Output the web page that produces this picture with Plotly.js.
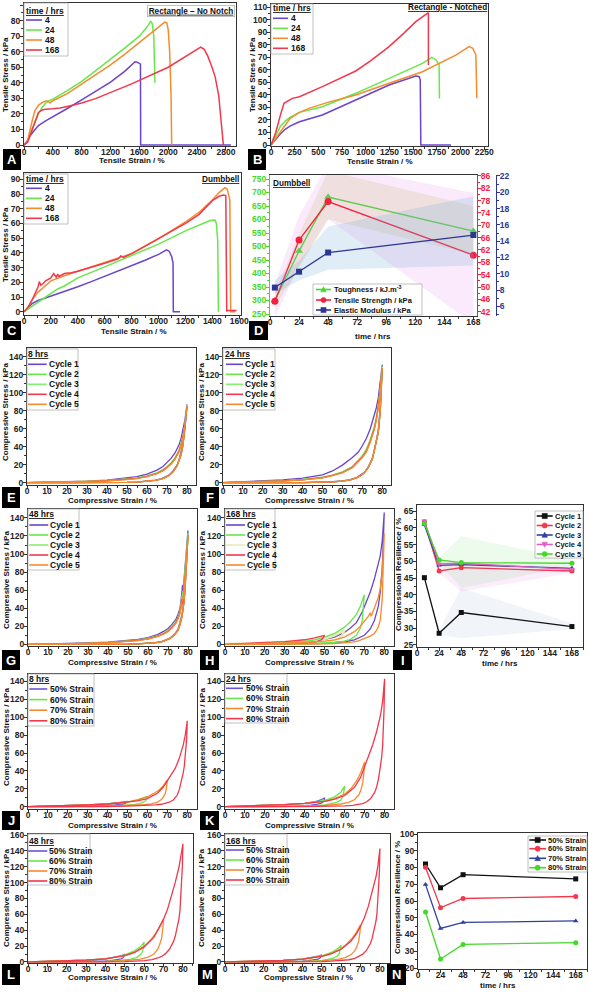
<!DOCTYPE html>
<html><head><meta charset="utf-8">
<script src="https://cdn.plot.ly/plotly-3.0.1.min.js"></script>
<style>html,body{margin:0;padding:0;background:#fff;}#chart{width:589px;height:992px;}</style>
</head><body><div id="chart"></div>
<script>
// ---------------- DATA ----------------
// Panel A: Rectangle - No Notch (strain %, stress kPa)
const A_4_x = [0,50,100,150,200,300,400,600,800,1000,1200,1400,1500,1540,1570,1600,1615,1618,2870];
const A_4_y = [0,3,7,10,12.5,15.5,18,23.5,29,34.5,40.5,47.5,51.5,53.5,53.3,52.5,52,0,0];
const A_24_x = [0,50,100,150,200,250,300,350,400,600,800,1000,1200,1400,1600,1700,1757,1780,1800,1810,1815];
const A_24_y = [0,2,9,15,20,24,27,28.5,29.5,35,41,48,55,62.5,70,75.5,79.5,78,70,55,40];
const A_48_x = [0,50,116,150,200,250,300,330,360,400,600,800,1000,1200,1400,1600,1800,1951,1980,2000,2020,2040,2048];
const A_48_y = [0,3,16,22,25.5,27.3,28.3,28.3,27,28.5,33,39,45,51.5,58.5,66,73.5,79,78.5,74,60,30,0];
const A_168_x = [0,50,100,150,200,250,300,400,500,600,800,1000,1500,2000,2450,2500,2550,2600,2650,2700,2730,2750,2760,2765];
const A_168_y = [0,2,8,15,21,22.5,23,23.3,23.8,24.8,27,30,39.5,50,63,61.5,57,51,44,32,18,8,5,0];
// Panel B: Rectangle - Notched
const B_4_x = [0,50,100,150,200,300,542,894,1246,1528,1563,1575,1581,1900];
const B_4_y = [0,4.5,9,12.5,15,18.5,23.9,35.9,47.8,55,54.6,52,0,0];
const B_24_x = [0,50,100,150,200,300,542,894,1246,1598,1697,1740,1774,1778];
const B_24_y = [0,8,15,19,22,26,30.5,41.2,53.2,65.1,69.9,68,64,37];
const B_48_x = [0,50,100,150,200,300,401,600,894,1246,1598,1950,2091,2130,2162,2172];
const B_48_y = [0,5,11,16,21,26,29.2,34,39.9,49.2,58.4,71.7,78.4,77,71.7,37.2];
const B_168_x = [0,50,100,137,225,300,542,700,894,1050,1246,1400,1528,1661,1661];
const B_168_y = [0,10,24,33.2,37.2,38.5,46.5,52,59,67,78.4,89,98.3,105.5,63.8];
// Panel C: Dumbbell
const C_4_x = [0,30,60,100,150,200,300,400,500,600,700,800,900,1000,1060,1080,1098,1108,1110,1160];
const C_4_y = [0,3,5.5,7.5,9,10.5,13.5,17,20.5,24,27.5,31,35,39,42,41,37.4,33,0,0];
const C_24_x = [0,50,100,150,200,250,300,400,600,800,1000,1200,1300,1383,1420,1430,1440,1445];
const C_24_y = [0,3,6,9,12,15.5,17.5,23,30.5,38,46,55,59,62,62.3,60,48,0];
const C_48_x = [0,30,60,100,150,200,300,400,600,800,1000,1200,1300,1400,1450,1494,1510,1530,1536,1570];
const C_48_y = [0,3,8,13,17,21,24.5,27.5,33,39.5,49.5,61,67.5,76,81,84.3,83.5,76,0,0];
const C_168_x = [0,30,60,90,105,114,125,140,160,200,220,240,250,260,300,350,400,600,700,720,740,800,1000,1200,1300,1400,1450,1482,1500,1507,1507,1580];
const C_168_y = [0,3,8,14,17,20.5,18,19,21,23,26,23.5,25.5,24,26,26.5,27.5,33,36,38,37,39.5,49.5,60,66,75.5,78.5,79.3,79,0,0.8,0.8];
// Panel D: Dumbbell properties vs time
const D_time = [4,24,48,168];
const D_tough = [300,483,683,557];
const D_tensile = [45.4,65.2,77.7,60.3];
const D_modulus = [8.3,10.25,12.6,14.75];
const D_tough_lo = [275,420,600,470], D_tough_hi = [325,545,780,650];
const D_tens_lo = [40,57,72,38], D_tens_hi = [51,73,90,80.5];
const D_mod_lo = [7.5,9.2,10.5,11], D_mod_hi = [9.2,11.6,15.8,19.5];
// Panels E-H: cyclic compression (strain %, stress kPa)
const EF_load = [0,10,20,30,40,50,55,60,65,68,70,72,74,76,77,78,79,80];
const EF_unload = [80,79.5,79,78,77,76,75,73,71,69,67,64,60,55,50,40,30,20,10,0];
const E_c1 = [0,0.4,0.9,1.6,2.8,4.8,6.6,9.5,14,18,22,27,33,42,49,58,70,87];
const E_c2 = [0,0.3,0.7,1.3,2.2,3.8,5.2,7.5,11,14.5,17.5,22,27.5,36,43,52,65,86];
const E_c3 = [0,0.3,0.7,1.3,2.2,3.7,5.1,7.3,10.8,14.2,17.2,21.5,27,35.5,42.5,51.5,64.5,86];
const E_c4 = [0,0.3,0.6,1.2,2.1,3.5,4.8,7,10.3,13.5,16.8,21,26.5,35,42,51,64,85];
const E_c5 = [0,0.3,0.6,1.1,2,3.4,4.6,6.7,10,13,16.3,20.5,26,34.5,41.5,50.5,63.5,84];
const E_c1_un = [87,72,60,44,33,25,19.5,13,8.5,6,4.3,2.7,1.5,0.7,0.3,0,0,0,0,0];
const E_cN_un = [85,70,58,42,31,23.5,18.5,12,8,5.6,4,2.5,1.4,0.6,0.3,0,0,0,0,0];
const F_c1 = [0,0.8,1.8,3,5,8.6,13,19.5,28,34,41,49,60,74,83,94,110,131];
const F_c2 = [0,0.5,1.2,2,3.5,6,8.5,12,18,25,30,37,48,62,72,86,104,129];
const F_c3 = [0,0.5,1.2,2,3.4,5.8,8.3,11.8,17.5,24.5,29.5,36,47,61,71,85,103,129];
const F_c4 = [0,0.5,1.1,1.9,3.2,5.5,8,11.3,17,23.5,28.5,35,46,60,70,84,102,127];
const F_c5 = [0,0.5,1.1,1.8,3.1,5.3,7.7,11,16.5,23,28,34,45,59,69,83,101,127];
const F_c1_un = [131,108,84,58,46,35,27,17.5,11.5,8,5.5,3.4,1.9,1,0.5,0.1,0,0,0,0];
const F_cN_un = [127,104,80,56,45,34,26,17,11,7.5,5.2,3.2,1.8,0.9,0.5,0.1,0,0,0,0];
const G_load = [0,10,20,30,40,50,55,60,65,68,70,72,74,75,76,76.5,77,77.3,77.6,78,79,80];
const G_unload = [80,79.5,79,78.5,78,77,76,75,73,71,69,67,64,60,55,50,40,30,20,10,0];
const G_c1 = [0,0.3,0.8,1.4,2.3,4,5.3,7.5,11,14.5,17.5,22,28,33,40,48,58,66,60,70,92,126];
const G_c2 = [0,0.2,0.6,1.1,1.9,3.4,4.6,6.5,9.5,12.5,15.5,19.5,25,30,37,44,52,57,53,64,88,123];
const G_c3 = [0,0.2,0.6,1.1,1.9,3.3,4.5,6.3,9.3,12.2,15,19,24.5,29.5,36,43,51,55,52,63,87,122];
const G_c4 = [0,0.2,0.6,1,1.8,3.2,4.3,6,9,11.8,14.5,18.5,24,29,35,42,50,44,48,62,86,121];
const G_c5 = [0,0.2,0.5,1,1.7,3,4.1,5.8,8.7,11.5,14,18,23.5,28,34,41,49,52,50,60,85,121];
const G_c1_un = [126,102,82,63,49,33,23,16.5,10.5,7,4.8,3.2,1.9,1,0.5,0.2,0,0,0,0,0];
const G_cN_un = [121,98,78,60,47,31,21.5,15.5,10,6.5,4.5,3,1.8,1,0.5,0.2,0,0,0,0,0];
const H_c1_x = [0,10,20,30,40,50,55,60,63,66,69,71,73,75,77,78,79,80,79.5,79,78,77,75,73,70,65,60,50,40,30,20,10,0];
const H_c1_y = [0,0.5,1.2,2,3.2,5.5,8,13,18,24,36,47,58,72,88,98,115,146,112,85,58,42,26,17,10,5,2.8,1,0.3,0,0,0,0];
const H_c2_x = [0,10,20,30,40,45,50,55,60,63,66,68,70,69.5,69,68,66,63,60,55,50,40,30,20,10,0];
const H_c2_y = [0,0.4,1,1.8,3.2,5,8,12,19,25,33,42,55,38,27,18,10,5.5,3.5,2,1.2,0.4,0.1,0,0,0];
const H_c3_x = [0,10,20,30,40,50,55,60,59,57,54,50,40,30,20,10,0];
const H_c3_y = [0,0.5,1.1,2,3.3,6,10,16,10,6,3.5,2,0.7,0.2,0,0,0];
const H_c4_x = [0,10,20,30,40,45,50,49.5,49,48,46,43,40,30,20,10,0];
const H_c4_y = [0,0.8,1.8,3,5,7,10,7.5,6,4.5,3,2,1.3,0.4,0,0,0];
const H_c5_x = [0,10,20,30,40,50,55,60,65,68,70,72,73,73.4,75,77,78,79,80,79.5,79,78,77,76,75,73,71,69,67,64,60,55,50,40,30,20,10,0];
const H_c5_y = [0,0.3,0.7,1.2,2,3.5,5,8,14,20,25,31,35,31,40,52,62,82,123,80,50,27,19,15,12,9,7,5,3.8,2.5,1.5,0.8,0.4,0.1,0,0,0,0];
// Panel I: compressional resilience vs time
const I_time = [8,24,48,168];
const I_c1 = [45.1,28.5,34.7,30.5];
const I_c2 = [61.8,47.1,48.1,47.1];
const I_c3 = [60.9,48.8,49,47.9];
const I_c4 = [62.1,49.2,49.4,47.6];
const I_c5 = [61.3,50.4,49.6,49.4];
const I_c1_lo = [44.8,28,27,29.8], I_c1_hi = [45.4,29.5,42,31.5];
const I_c5_lo = [61,49.5,42,48.5], I_c5_hi = [61.8,51,57.5,50.5];
const I_c4_lo = [61.5,46.5,41,46.5], I_c4_hi = [62.3,50,49.5,48.5];
// Panels J-M: strain-level loops
const S50_load = [0,10,20,30,40,45,48,50];
const S50_unload = [50,49.7,49.3,49,48,46,43,40,35,30,20,10,0];
const S60_load = [0,10,20,30,40,45,50,55,58,60];
const S60_unload = [60,59.7,59.3,59,58,56,53,50,45,40,30,20,10,0];
const S70_load = [0,10,20,30,40,50,55,60,63,66,68,70];
const S70_unload = [70,69.7,69.3,69,68,67,65,62,58,50,40,30,20,10,0];
const S80_load = [0,10,20,30,40,50,55,60,65,68,70,72,74,76,78,79,80];
const S80_unload = [80,79.7,79.3,79,78.5,78,77,76,75,73,71,69,67,64,60,55,50,40,30,20,10,0];
const J_50 = [0,0.5,1.1,1.9,3,4,5,6], J_50_un = [6,5,4.3,3.8,3,2.2,1.6,1.2,0.8,0.5,0.1,0,0];
const J_60 = [0,0.5,1.1,1.9,3,4,5.2,7.5,9.5,11.5], J_60_un = [11.5,9,7.5,6.5,5,3.4,2.4,1.8,1.1,0.7,0.2,0,0,0];
const J_70 = [0,0.5,1.1,1.9,3,5.2,7.5,11,14.5,19,23.5,30], J_70_un = [30,23,18,15,11,8,5,3.2,2.2,1.2,0.5,0.2,0,0,0];
const J_80 = [0,0.5,1.1,1.9,3,5,6.5,9,15,22,29,35,43,54,69,80,96], J_80_un = [96,75,62,55,45,38,27,19,13,7.5,5,3.6,2.7,1.9,1.3,0.9,0.6,0.2,0,0,0,0];
const K_50 = [0,0.6,1.3,2.2,3.6,5.5,7.5,10], K_50_un = [10,7.5,6,5,3.8,2.6,1.7,1.2,0.7,0.4,0.1,0,0];
const K_60 = [0,0.6,1.3,2.2,3.6,5,7,11,16,23], K_60_un = [23,17,13,11,7.5,4.8,3,2,1.1,0.6,0.2,0,0,0];
const K_70 = [0,0.6,1.3,2.2,3.6,6,9,14,20,29,38,50], K_70_un = [50,40,32,26,18,13,8,4.8,3,1.5,0.6,0.2,0,0,0];
const K_80 = [0,0.6,1.3,2.2,3.6,6,8.5,12.5,22,33,45,56,69,84,103,118,143], K_80_un = [143,108,82,68,55,45,32,22,16,9,5.5,3.5,2.4,1.5,0.9,0.5,0.3,0,0,0,0,0];
const L_50 = [0,0.6,1.3,2.3,4,6,7.8,9.5], L_50_un = [9.5,7.5,6,5,3.8,2.6,1.7,1.2,0.7,0.4,0.1,0,0];
const L_60 = [0,0.6,1.3,2.3,4,6,9,14,19,25], L_60_un = [25,19,15,12.5,9,5.5,3.5,2.3,1.2,0.7,0.2,0,0,0];
const L_70 = [0,0.6,1.3,2.3,4,8,12,20,27,36,44,54], L_70_un = [54,44,36,30,22,16,10,6,3.5,1.6,0.6,0.2,0,0,0];
const L_80 = [0,0.6,1.3,2.3,4,8,12,19,31,44,54,66,82,100,120,133,149], L_80_un = [149,120,98,85,66,55,42,32,25,16,10.5,7,5,3,1.8,1,0.5,0.2,0,0,0,0];
const M_50 = [0,0.5,1.1,2,3.5,5.5,7.2,9], M_50_un = [9,7,5.6,4.6,3.5,2.4,1.6,1.1,0.6,0.3,0.1,0,0];
const M_60 = [0,0.5,1.1,2,3.5,5.2,7.8,12,16.5,21], M_60_un = [21,16,13,10.5,7.5,4.8,3.2,2,1.1,0.6,0.2,0,0,0];
const M_70 = [0,0.5,1.1,2,3.5,7,10.5,17,23,31,38,47], M_70_un = [47,38,31,26,19,14,9,5.5,3.2,1.5,0.6,0.2,0,0,0];
const M_80 = [0,0.5,1.1,2,3.5,7,10.5,16,26,36,45,56,70,88,108,122,143], M_80_un = [143,112,92,80,62,52,40,30,23,14.5,9.5,6.5,4.5,2.8,1.7,1,0.5,0.2,0,0,0,0];
// Panel N
const N_time = [8,24,48,168];
const N_s50 = [82.1,67.9,75.7,73.2];
const N_s60 = [80.1,56,61.5,62.7];
const N_s70 = [69.8,43.6,47.2,48.1];
const N_s80 = [53.4,25.4,34.1,35.1];

// ---------------- STYLE ----------------
const W = 589, H = 992;
const FONT = 'Liberation Sans, Arial, Helvetica, sans-serif';
const PURPLE = '#6a45cc', GREEN = '#66e84a', GREEN2 = '#86ee70', ORANGE = '#f58b2e', RED = '#f2384c';
const PALE = '#e4edb4', PINK = '#e060c0', BLACK = '#111111', BLUE = '#3040a0';
const DGREEN = '#44d829', DRED = '#f5203f', DBLUE = '#2c3794';

const traces = [];
const layout = {width:W, height:H, margin:{l:0,r:0,t:0,b:0}, paper_bgcolor:'#fff', plot_bgcolor:'#fff',
  showlegend:false, font:{family:FONT, size:8.5, color:'#222'}, shapes:[], annotations:[]};

function axBase(col, isX){
  col = col || '#333';
  return {showgrid:false, zeroline:false, showline:true, linecolor:col, linewidth:1, mirror:true,
    ticks:'outside', ticklen:3, tickwidth:1, tickcolor:col, ticklabelstandoff: isX ? -5 : -2,
    tickfont:{family:FONT, size:8.5, color:col==='#333'?'#222':col, weight:'bold'},
    fixedrange:true, automargin:false, tick0:0};
}
function panel(xid, yid, xpx, ypx, xr, yr, xd, xm, yd, ym, xextra, yextra){
  const xk = xid==='x' ? 'xaxis' : 'xaxis'+xid.slice(1);
  const yk = yid==='y' ? 'yaxis' : 'yaxis'+yid.slice(1);
  layout[xk] = Object.assign(axBase(null, true), {domain:[xpx[0]/W, xpx[1]/W], range:xr, dtick:xd,
    minor:{ticks:'outside', ticklen:2, tickcolor:'#333', dtick:xm}, anchor:yid}, xextra||{});
  layout[yk] = Object.assign(axBase(null, false), {domain:[1-ypx[1]/H, 1-ypx[0]/H], range:yr, dtick:yd,
    minor:{ticks:'outside', ticklen:2, tickcolor:'#333', dtick:ym}, anchor:xid}, yextra||{});
}
function line(x, y, xa, ya, color, w){
  traces.push({type:'scatter', mode:'lines', x:x, y:y, xaxis:xa, yaxis:ya, line:{color:color, width:w||1.5}, hoverinfo:'skip'});
}
function loop(lx, ly, ux, uy, xa, ya, color, w){ line(lx.concat(ux), ly.concat(uy), xa, ya, color, w||1.3); }
function band(x, lo, hi, xa, ya, fill){
  traces.push({type:'scatter', mode:'lines', x:x.concat(x.slice().reverse()), y:lo.concat(hi.slice().reverse()),
    fill:'toself', fillcolor:fill, line:{width:0}, xaxis:xa, yaxis:ya, hoverinfo:'skip'});
}
function pts(x, y, xa, ya, color, sym, size){
  traces.push({type:'scatter', mode:'lines+markers', x:x, y:y, xaxis:xa, yaxis:ya,
    line:{color:color, width:1.3}, marker:{color:color, symbol:sym, size:size||6}, hoverinfo:'skip'});
}
// pixel helpers for decorations
const P = v => v/W, Q = v => 1 - v/H;
function txt(x, y, s, o){
  o = o || {};
  layout.annotations.push({xref:'paper', yref:'paper', x:P(x), y:Q(y), text:'<b>'+s+'</b>', showarrow:false,
    xanchor:o.xa||'left', yanchor:o.ya||'middle', textangle:o.angle||0, borderpad:o.pad||0,
    bgcolor:o.bg||'rgba(0,0,0,0)', bordercolor:o.bc||'rgba(0,0,0,0)', borderwidth:o.bw||0,
    font:{family:FONT, size:o.size||8.5, color:o.color||'#111'}});
}
function rectPx(x0, y0, x1, y1, fill, lc, lw){
  layout.shapes.push({type:'rect', xref:'paper', yref:'paper', layer:'above', x0:P(x0), x1:P(x1), y0:Q(y1), y1:Q(y0),
    fillcolor:fill, line:{color:lc||'rgba(0,0,0,0)', width:lc?(lw||0.8):0}});
}
function segPx(x0, x1, y, color, w){
  layout.shapes.push({type:'line', xref:'paper', yref:'paper', layer:'above', x0:P(x0), x1:P(x1), y0:Q(y), y1:Q(y),
    line:{color:color, width:w||1.6}});
}
function markPx(cx, cy, sym, color, r){
  r = r || 2.6;
  if (sym==='square') rectPx(cx-r, cy-r, cx+r, cy+r, color, color, 0.5);
  else if (sym==='circle') layout.shapes.push({type:'circle', xref:'paper', yref:'paper', layer:'above',
    x0:P(cx-r), x1:P(cx+r), y0:Q(cy+r), y1:Q(cy-r), fillcolor:color, line:{color:color, width:0.5}});
  else {
    const d = sym==='triangle-up' ? 1 : -1;
    layout.shapes.push({type:'path', xref:'paper', yref:'paper', layer:'above',
      path:'M '+P(cx)+' '+Q(cy-d*r*1.1)+' L '+P(cx+r*1.1)+' '+Q(cy+d*r*0.9)+' L '+P(cx-r*1.1)+' '+Q(cy+d*r*0.9)+' Z',
      fillcolor:color, line:{color:color, width:0.5}});
  }
}
function legend(box, title, items, lx0, lx1, tx, size, marks){
  rectPx(box[0], box[1], box[2], box[3], '#ffffff', '#b0b0b0', 0.8);
  if (title) txt(title[0], title[1], '<u>'+title[2]+'</u>', {size:size});
  items.forEach(it => {
    segPx(lx0, lx1, it[0], it[1], 1.6);
    if (marks) markPx((lx0+lx1)/2, it[0], it[3], it[1], 2.6);
    txt(tx, it[0], it[2], {size:size});
  });
}
function letter(x0, y0, x1, y1, s){
  rectPx(x0, y0, x1, y1, '#000000');
  txt((x0+x1)/2, (y0+y1)/2, s, {xa:'center', color:'#ffffff', size:13});
}

// ---------------- AXES ----------------
panel('x','y',[24,236],[3,146],[0,2940],[-0.6,91.3],400,200,10,5);
panel('x2','y2',[271,488],[4,146],[0,2290],[-0.8,112.4],250,125,10,5);
panel('x3','y3',[24,241],[173,315],[0,1613],[-2.2,94.3],200,100,10,5);
panel('x4','y4',[270,477],[175,316],[0,171],[242.6,764.8],24,12,50,25,{},
  Object.assign(axBase(DGREEN,false),{mirror:false, minor:{ticks:'outside',ticklen:2,tickcolor:DGREEN,dtick:25}}));
layout.yaxis4.domain = [1-316/H, 1-175/H]; layout.yaxis4.range=[242.6,764.8]; layout.yaxis4.dtick=50; layout.yaxis4.anchor='x4';
layout.yaxis5 = Object.assign(axBase(DRED,false), {overlaying:'y4', side:'right', anchor:'x4', mirror:false,
  range:[40.6,86.3], tick0:42, dtick:4, minor:{ticks:'outside',ticklen:2,tickcolor:DRED,dtick:2}});
layout.yaxis6 = Object.assign(axBase(DBLUE,false), {overlaying:'y4', side:'right', anchor:'free', position:496/W, mirror:false,
  range:[4.81,22.12], tick0:0, dtick:2, minor:{ticks:'outside',ticklen:2,tickcolor:DBLUE,dtick:1}});
panel('x5','y7',[27,196],[348,485],[0,84.5],[-2.6,149.7],10,5,20,10);
panel('x6','y8',[223,391],[348,485],[0,84.4],[-2.6,149.7],10,5,20,10);
panel('x7','y9',[28,197],[509,646],[0,84.5],[-1.9,149.9],10,5,20,10);
panel('x8','y10',[225,394],[509,646],[0,84.9],[-1.9,149.9],10,5,20,10);
panel('x9','y11',[417,583],[505,647],[0,180],[24.4,66.8],24,12,5,2.5);
panel('x10','y12',[28,197],[674,809],[0,84.9],[-2.6,148.3],10,5,20,10);
panel('x11','y13',[225,394],[674,809],[0,84.7],[-2.6,148.3],10,5,20,10);
panel('x12','y14',[28,193],[834,963],[0,85.2],[-1.3,161.3],10,5,20,10);
panel('x13','y15',[225,390],[834,963],[0,85.2],[-1.3,161.3],10,5,20,10);
panel('x14','y16',[418,587],[833,969],[0,180],[19.4,100.6],24,12,10,5);

// ---------------- TRACES ----------------
line(A_4_x, A_4_y, 'x','y', PURPLE); line(A_24_x, A_24_y, 'x','y', GREEN);
line(A_48_x, A_48_y, 'x','y', ORANGE); line(A_168_x, A_168_y, 'x','y', RED);
line(B_4_x, B_4_y, 'x2','y2', PURPLE); line(B_24_x, B_24_y, 'x2','y2', GREEN);
line(B_48_x, B_48_y, 'x2','y2', ORANGE); line(B_168_x, B_168_y, 'x2','y2', RED);
line(C_4_x, C_4_y, 'x3','y3', PURPLE); line(C_24_x, C_24_y, 'x3','y3', GREEN);
line(C_48_x, C_48_y, 'x3','y3', ORANGE); line(C_168_x, C_168_y, 'x3','y3', RED);
// D
band(D_time, D_tough_lo, D_tough_hi, 'x4','y4', 'rgba(196,196,90,0.22)');
pts(D_time, D_tough, 'x4','y4', DGREEN, 'triangle-up', 7);
band(D_time, D_tens_lo, D_tens_hi, 'x4','y5', 'rgba(226,140,236,0.18)');
pts(D_time, D_tensile, 'x4','y5', DRED, 'circle', 7);
band(D_time, D_mod_lo, D_mod_hi, 'x4','y6', 'rgba(120,175,215,0.22)');
pts(D_time, D_modulus, 'x4','y6', DBLUE, 'square', 6);
// E-G
const cyc = [PURPLE, GREEN, GREEN2, RED, ORANGE];
[E_c1,E_c2,E_c3,E_c4,E_c5].forEach((c,i)=>loop(EF_load, c, EF_unload, i===0?E_c1_un:E_cN_un, 'x5','y7', cyc[i]));
[F_c1,F_c2,F_c3,F_c4,F_c5].forEach((c,i)=>loop(EF_load, c, EF_unload, i===0?F_c1_un:F_cN_un, 'x6','y8', cyc[i]));
[G_c1,G_c2,G_c3,G_c4,G_c5].forEach((c,i)=>loop(G_load, c, G_unload, i===0?G_c1_un:G_cN_un, 'x7','y9', cyc[i]));
// H
line(H_c1_x, H_c1_y, 'x8','y10', PURPLE, 1.3);
line(H_c3_x, H_c3_y, 'x8','y10', PALE, 2.5);
line(H_c2_x, H_c2_y, 'x8','y10', GREEN, 1.3);
line(H_c4_x, H_c4_y, 'x8','y10', RED, 1.3);
line(H_c5_x, H_c5_y, 'x8','y10', ORANGE, 1.3);
// I
band(I_time, I_c1_lo, I_c1_hi, 'x9','y11', 'rgba(150,170,200,0.13)');
band(I_time, I_c5_lo, I_c5_hi, 'x9','y11', 'rgba(120,230,120,0.14)');
band(I_time, I_c4_lo, I_c4_hi, 'x9','y11', 'rgba(230,130,230,0.14)');
pts(I_time, I_c1, 'x9','y11', BLACK, 'square', 5);
pts(I_time, I_c2, 'x9','y11', RED, 'circle', 5);
pts(I_time, I_c3, 'x9','y11', BLUE, 'triangle-up', 5);
pts(I_time, I_c4, 'x9','y11', PINK, 'triangle-down', 5);
pts(I_time, I_c5, 'x9','y11', DGREEN, 'circle', 5);
// J-M
const JM = [['x10','y12',[J_50,J_50_un],[J_60,J_60_un],[J_70,J_70_un],[J_80,J_80_un]],
            ['x11','y13',[K_50,K_50_un],[K_60,K_60_un],[K_70,K_70_un],[K_80,K_80_un]],
            ['x12','y14',[L_50,L_50_un],[L_60,L_60_un],[L_70,L_70_un],[L_80,L_80_un]],
            ['x13','y15',[M_50,M_50_un],[M_60,M_60_un],[M_70,M_70_un],[M_80,M_80_un]]];
JM.forEach(p => {
  loop(S50_load, p[2][0], S50_unload, p[2][1], p[0], p[1], '#6a55d8');
  loop(S60_load, p[3][0], S60_unload, p[3][1], p[0], p[1], GREEN);
  loop(S70_load, p[4][0], S70_unload, p[4][1], p[0], p[1], ORANGE);
  loop(S80_load, p[5][0], S80_unload, p[5][1], p[0], p[1], RED);
});
// N
pts(N_time, N_s50, 'x14','y16', BLACK, 'square', 5);
pts(N_time, N_s60, 'x14','y16', RED, 'circle', 5);
pts(N_time, N_s70, 'x14','y16', BLUE, 'triangle-up', 5);
pts(N_time, N_s80, 'x14','y16', DGREEN, 'circle', 5);

// ---------------- TEXT / LEGENDS ----------------
const tlab = [[PURPLE,'4'],[GREEN,'24'],[ORANGE,'48'],[RED,'168']];
legend([24,3,68,56],[26,10.5,'time / hrs'], tlab.map((t,i)=>[20+10*i,t[0],t[1]]), 26, 42, 44.5, 8.5);
legend([271,4,313,54],[273,8,'time / hrs'], tlab.map((t,i)=>[18.3+10*i,t[0],t[1]]), 273, 288, 291, 8.5);
legend([24,174,68,224],[26,178.5,'time / hrs'], tlab.map((t,i)=>[188.3+10*i,t[0],t[1]]), 26, 42, 44.5, 8.5);
txt(235, 10.5, '<u>Rectangle – No Notch</u>', {xa:'right', size:8.2, bg:'#fff', bc:'#aaa', bw:0.7, pad:1});
txt(487, 7.5, '<u>Rectangle - Notched</u>', {xa:'right', size:8.2});
txt(239, 179.3, '<u>Dumbbell</u>', {xa:'right', size:8.2});
txt(273, 183.3, '<u>Dumbbell</u>', {size:8.2});
legend([313,284,422,315], null, [[289.5,DGREEN,'Toughness / kJ.m<sup>-3</sup>','triangle-up'],
  [300,DRED,'Tensile Strength / kPa','circle'],[310,DBLUE,'Elastic Modulus / kPa','square']], 316, 331, 334, 7.5, true);
const cl = [[PURPLE,'Cycle 1'],[GREEN,'Cycle 2'],[GREEN2,'Cycle 3'],[RED,'Cycle 4'],[ORANGE,'Cycle 5']];
legend([27,349,78,410],[28,354.3,'8 hrs'], cl.map((c,i)=>[364.3+10*i,c[0],c[1]]), 28, 46.7, 48.5, 8.5);
legend([223,349,275,410],[225,354.3,'24 hrs'], cl.map((c,i)=>[364.3+10*i,c[0],c[1]]), 226, 243, 245, 8.5);
legend([28,509,79,570],[29,514.3,'48 hrs'], cl.map((c,i)=>[525+10*i,c[0],c[1]]), 29.3, 48.3, 50, 8.5);
const clH = [[PURPLE,'Cycle 1'],[GREEN,'Cycle 2'],[PALE,'Cycle 3'],[RED,'Cycle 4'],[ORANGE,'Cycle 5']];
legend([225,509,275,570],[226,514.3,'168 hrs'], clH.map((c,i)=>[525+10*i,c[0],c[1]]), 226, 245, 246.5, 8.5);
legend([535,511,583,558], null, [[516,BLACK,'Cycle 1','square'],[525.5,RED,'Cycle 2','circle'],[535,BLUE,'Cycle 3','triangle-up'],
  [544.5,PINK,'Cycle 4','triangle-down'],[554,DGREEN,'Cycle 5','circle']], 536.7, 552.7, 555, 7.5, true);
const sl = [['#6a55d8','50% Strain'],[GREEN,'60% Strain'],[ORANGE,'70% Strain'],[RED,'80% Strain']];
legend([28,674,94,726],[29,678.5,'8 hrs'], sl.map((s,i)=>[689+10.6*i,s[0],s[1]]), 29.3, 47.3, 50, 8.5);
legend([225,674,287,723],[226,678.5,'24 hrs'], sl.map((s,i)=>[688.3+10.1*i,s[0],s[1]]), 226, 243, 246, 8.5);
legend([28,834,90,885],[29,840.7,'48 hrs'], sl.map((s,i)=>[851+10*i,s[0],s[1]]), 28.3, 47.3, 49.3, 8.5);
legend([225,834,287,885],[226,840.7,'168 hrs'], sl.map((s,i)=>[850+10*i,s[0],s[1]]), 226, 244, 246, 8.5);
legend([528,836,587,872], null, [[840,BLACK,'50% Strain','square'],[848.7,RED,'60% Strain','circle'],
  [858.3,BLUE,'70% Strain','triangle-up'],[867.7,DGREEN,'80% Strain','circle']], 529.3, 546, 548.3, 7.5, true);

// axis titles
const V = {angle:-90, xa:'center', size:8};
const HZ = {xa:'center', size:8};
txt(6,75,'Tensile Stress / kPa',V); txt(132,160.5,'Tensile Strain / %',HZ);
txt(253,75,'Tensile Stress / kPa',V); txt(380,161.5,'Tensile Strain / %',HZ);
txt(6,245,'Tensile Stress / kPa',V); txt(134,331.5,'Tensile Strain / %',HZ);
txt(373,336.5,'time / hrs',HZ);
txt(6,412,'Compressive Stress / kPa',V); txt(112,500.5,'Compressive Strain / %',HZ);
txt(202,412,'Compressive Stress / kPa',V); txt(309,500.5,'Compressive Strain / %',HZ);
txt(6,580,'Compressive Stress / kPa',V); txt(112,662.7,'Compressive Strain / %',HZ);
txt(202,580,'Compressive Stress / kPa',V); txt(309,662.7,'Compressive Strain / %',HZ);
txt(398,575,'Compressional Resilience / %',V); txt(500,663.3,'time / hrs',HZ);
txt(6,737,'Compressive Stress / kPa',V); txt(112,825.7,'Compressive Strain / %',HZ);
txt(202,737,'Compressive Stress / kPa',V); txt(309,825.7,'Compressive Strain / %',HZ);
txt(6,898,'Compressive Stress / kPa',V); txt(112,977,'Compressive Strain / %',HZ);
txt(201,898,'Compressive Stress / kPa',V); txt(308,977,'Compressive Strain / %',HZ);
txt(397,898,'Compressional Resilience / %',V); txt(498,985.5,'time / hrs',HZ);

// panel letters
letter(3,149,21,170,'A'); letter(248,149,266,170,'B');
letter(3,321,21,340,'C'); letter(249,321,268,340,'D');
letter(2,487,20,508,'E'); letter(200,487,219,508,'F');
letter(2,650,20,670,'G'); letter(200,650,219,670,'H'); letter(393,650,412,670,'I');
letter(2,811,20,830,'J'); letter(200,811,219,830,'K');
letter(2,964,20,985,'L'); letter(198,964,217,985,'M'); letter(387,964,406,985,'N');

Plotly.newPlot('chart', traces, layout, {staticPlot:true, displayModeBar:false});
</script></body></html>
